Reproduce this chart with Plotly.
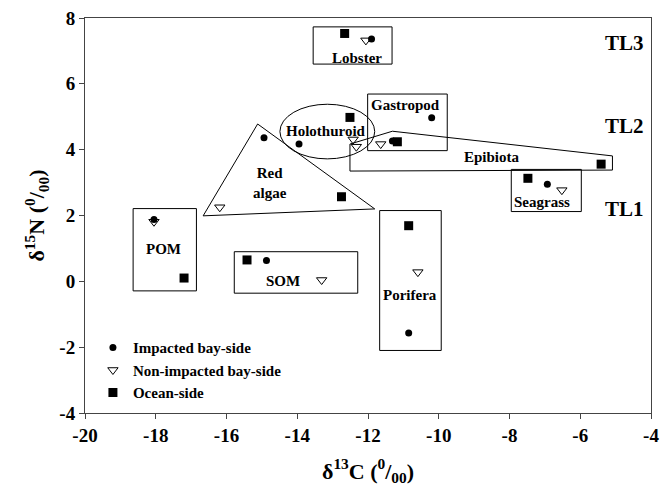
import plotly.graph_objects as go

# ---- data ----
impacted_x = [-11.9, -10.2, -11.31, -13.95, -14.94, -6.93, -18.05, -14.87, -10.85]
impacted_y = [7.36, 4.97, 4.26, 4.17, 4.36, 2.95, 1.88, 0.63, -1.57]

nonimp_x = [-12.06, -11.64, -12.42, -12.33, -16.19, -6.52, -18.05, -13.31, -10.59]
nonimp_y = [7.32, 4.17, 4.31, 4.09, 2.25, 2.77, 1.81, 0.04, 0.28]

ocean_x = [-12.66, -12.51, -11.17, -12.75, -5.41, -7.48, -17.2, -15.42, -10.85]
ocean_y = [7.53, 4.98, 4.24, 2.57, 3.56, 3.13, 0.1, 0.65, 1.69]

series_names = ["Impacted bay-side", "Non-impacted bay-side", "Ocean-side"]

# group boxes: (x0, y0, x1, y1)
boxes = {
    "Lobster": (-13.55, 6.6, -11.32, 7.73),
    "Gastropod": (-12.01, 3.97, -9.76, 5.69),
    "Seagrass": (-7.95, 2.12, -5.97, 3.40),
    "POM": (-18.64, -0.29, -16.85, 2.21),
    "SOM": (-15.78, -0.36, -12.29, 0.90),
    "Porifera": (-11.67, -2.1, -9.93, 2.15),
}
holothuroid_ellipse = (-14.49, 3.72, -11.81, 5.38)
red_algae_vertices = [(-15.12, 4.78), (-16.66, 1.99), (-11.81, 2.2)]
epibiota_vertices = [(-12.51, 4.17), (-11.31, 4.56), (-5.09, 3.81), (-5.09, 3.38), (-12.51, 3.35)]

group_labels = ["Lobster", "Gastropod", "Holothuroid", "Red<br>algae", "Epibiota",
                "Seagrass", "POM", "SOM", "Porifera"]
group_label_x = [-12.31, -10.93, -13.2, -14.77, -8.49, -7.08, -17.79, -14.40, -10.82]
group_label_y = [6.8, 5.37, 4.56, 2.98, 3.77, 2.42, 0.98, 0.02, -0.41]

tl_labels = ["TL3", "TL2", "TL1"]
tl_y = [7.24, 4.72, 2.19]

x_ticks = [-20, -18, -16, -14, -12, -10, -8, -6, -4]
y_ticks = [-4, -2, 0, 2, 4, 6, 8]

FONT = "Liberation Serif"

def bfont(size):
    return dict(family=FONT, size=size, color="black", weight="bold")

fig = go.Figure()
fig.add_trace(go.Scatter(x=impacted_x, y=impacted_y, mode="markers", name=series_names[0],
                         marker=dict(symbol="circle", size=7, color="black")))
fig.add_trace(go.Scatter(x=nonimp_x, y=nonimp_y, mode="markers", name=series_names[1],
                         marker=dict(symbol="triangle-down-open", size=9, color="black",
                                     line=dict(width=1, color="black"))))
fig.add_trace(go.Scatter(x=ocean_x, y=ocean_y, mode="markers", name=series_names[2],
                         marker=dict(symbol="square", size=9, color="black")))

shapes = []
for k, (x0, y0, x1, y1) in boxes.items():
    shapes.append(dict(type="rect", xref="x", yref="y", x0=x0, y0=y0, x1=x1, y1=y1,
                       line=dict(color="black", width=1), layer="below"))
ex0, ey0, ex1, ey1 = holothuroid_ellipse
shapes.append(dict(type="circle", xref="x", yref="y", x0=ex0, y0=ey0, x1=ex1, y1=ey1,
                   line=dict(color="black", width=1), layer="below"))
for verts in (red_algae_vertices, epibiota_vertices):
    path = "M " + " L ".join(f"{vx},{vy}" for vx, vy in verts) + " Z"
    shapes.append(dict(type="path", xref="x", yref="y", path=path,
                       line=dict(color="black", width=1), layer="below"))

annotations = []
for t, lx, ly in zip(group_labels, group_label_x, group_label_y):
    annotations.append(dict(x=lx, y=ly, xref="x", yref="y", text=t, showarrow=False,
                            font=bfont(15)))
for t, ly in zip(tl_labels, tl_y):
    annotations.append(dict(x=-4.15, y=ly, xref="x", yref="y", text=t, showarrow=False,
                            xanchor="right", font=bfont(21)))

axis_common = dict(showline=True, linecolor="#444", linewidth=1, mirror=True, ticks="outside",
                   ticklen=5, tickcolor="#444", showgrid=False, zeroline=False,
                   automargin=False, ticklabeloverflow="allow", tickfont=bfont(19))

fig.update_layout(
    width=660, height=488,
    margin=dict(l=85, r=9, t=18, b=75, autoexpand=False),
    font=bfont(15),
    plot_bgcolor="white", paper_bgcolor="white",
    xaxis=dict(range=[-20, -4], tickvals=x_ticks,
               ticktext=[f"<b>{v}</b>" for v in x_ticks],
               title=dict(text="δ<sup>13</sup>C (<sup>0</sup>/<sub>00</sub>)",
                          font=bfont(22), standoff=18),
               **axis_common),
    yaxis=dict(range=[-4, 8], tickvals=y_ticks,
               ticktext=[f"<b>{v}</b>" for v in y_ticks],
               title=dict(text="δ<sup>15</sup>N (<sup>0</sup>/<sub>00</sub>)",
                          font=bfont(22), standoff=8),
               **axis_common),
    shapes=shapes,
    annotations=annotations,
    legend=dict(x=0.014, y=0.207, xanchor="left", yanchor="top", bgcolor="rgba(0,0,0,0)",
                font=bfont(15), tracegroupgap=0),
    showlegend=True,
)

fig.write_html("out.html", config={"displayModeBar": False},
               post_script="document.body.style.margin='0';document.body.style.overflow='hidden';")
